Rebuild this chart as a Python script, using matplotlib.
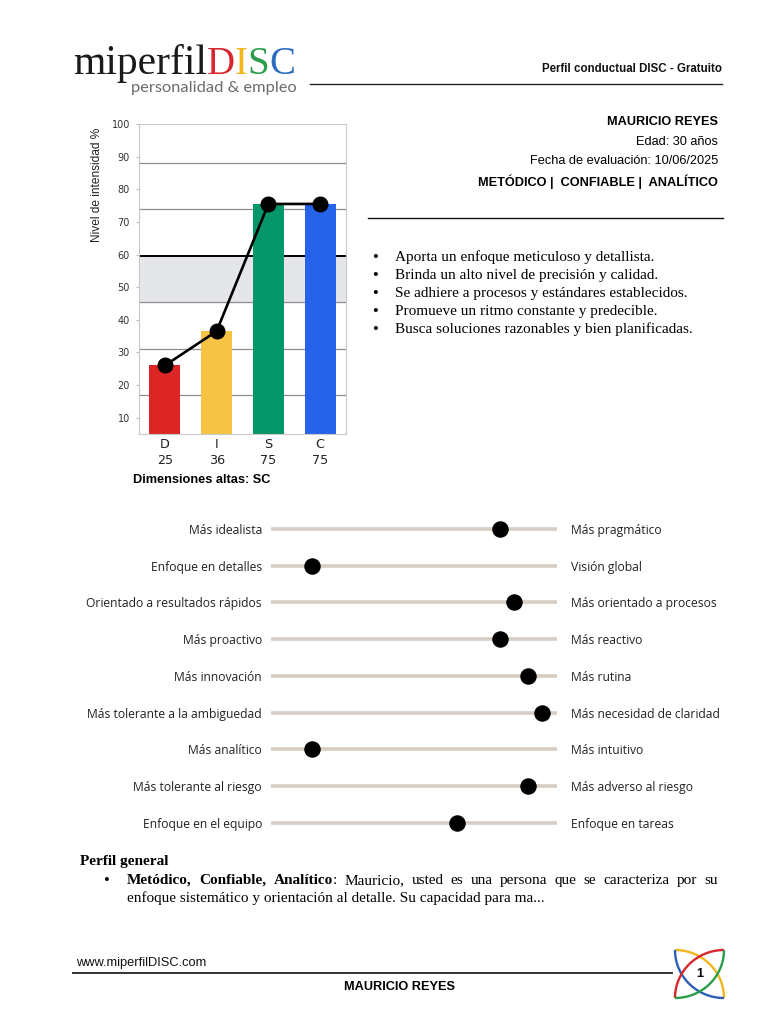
import numpy as np
import matplotlib.pyplot as plt

W, H = 768, 1024

# ---- data ----
dims = ['D', 'I', 'S', 'C']
scores = [25, 36, 75, 75]
bar_heights = [26, 36.5, 75.5, 75.5]
bar_colors = ['#dc2626', '#f6c344', '#059669', '#2563eb']
grid_lines = [17, 31, 45.5, 74, 88]
mid_line = 59.5
band_lo, band_hi = 45.5, 59.5
high_dims = 'SC'

left_traits = ['Más idealista', 'Enfoque en detalles', 'Orientado a resultados rápidos',
               'Más proactivo', 'Más innovación', 'Más tolerante a la ambiguedad',
               'Más analítico', 'Más tolerante al riesgo', 'Enfoque en el equipo']
right_traits = ['Más pragmático', 'Visión global', 'Más orientado a procesos',
                'Más reactivo', 'Más rutina', 'Más necesidad de claridad',
                'Más intuitivo', 'Más adverso al riesgo', 'Enfoque en tareas']
trait_pos = [80, 14.5, 85, 80, 90, 95, 14.5, 90, 65]

name = 'MAURICIO REYES'
info_lines = ['Edad: 30 años', 'Fecha de evaluación: 10/06/2025']
tags = 'METÓDICO |  CONFIABLE |  ANALÍTICO'
bullets = ['Aporta un enfoque meticuloso y detallista.',
           'Brinda un alto nivel de precisión y calidad.',
           'Se adhiere a procesos y estándares establecidos.',
           'Promueve un ritmo constante y predecible.',
           'Busca soluciones razonables y bien planificadas.']
summary_bold = 'Metódico, Confiable, Analítico'
summary_line1 = ': Mauricio, usted es una persona que se caracteriza por su'
summary_line2 = 'enfoque sistemático y orientación al detalle. Su capacidad para ma...'

SANS = 'Liberation Sans'
SERIF = 'Liberation Serif'

fig = plt.figure(figsize=(W / 100, H / 100), dpi=100)
bg = fig.add_axes([0, 0, 1, 1])
bg.set_xlim(0, W)
bg.set_ylim(H, 0)
bg.axis('off')
r = fig.canvas.get_renderer()


def px_axes(x0, y0, x1, y1):
    return fig.add_axes([x0 / W, 1 - y1 / H, (x1 - x0) / W, (y1 - y0) / H])


def width(t):
    return t.get_window_extent(r).width


# ---- header ----
x = 73
for s, c, fs in [('miperfil', '#1a1a1a', 30), ('D', '#d7282f', 28), ('I', '#f2b51c', 28),
                 ('S', '#2a9d4b', 28), ('C', '#2d6cc0', 28)]:
    t = bg.text(x, 74, s, family=SERIF, fontsize=fs, color=c, va='baseline')
    x += width(t)
bg.text(131, 88, 'personalidad & empleo', family='Lato', fontsize=11.8,
        color='#6b6b6b', va='center')
bg.plot([310, 722], [84, 84], color='#222', lw=1)
bg.text(722, 69, 'Perfil conductual DISC - Gratuito', family=SANS, fontsize=8.3,
        weight='bold', ha='right', va='center', color='#111')

# ---- info block ----
bg.text(718, 122, name, family=SANS, fontsize=9.2, weight='bold', ha='right', va='center')
for i, s in enumerate(info_lines):
    bg.text(718, 142 + 18.5 * i, s, family=SANS, fontsize=9.2, ha='right', va='center')
bg.text(718, 182, tags, family=SANS, fontsize=9.2, weight='bold', ha='right', va='center')
bg.plot([368, 723], [218, 218], color='#111', lw=1)
for i, s in enumerate(bullets):
    y = 257 + 18 * i
    bg.text(375, y + 1, '•', family=SERIF, fontsize=12, ha='center', va='center')
    bg.text(395, y, s, family=SERIF, fontsize=11, va='center')

# ---- DISC bar chart ----
ax = px_axes(139, 124, 346, 434)
xs = np.arange(len(dims))
ax.axhspan(band_lo, band_hi, color='#e5e6e9', zorder=0)
ax.hlines(grid_lines, -0.5, 3.5, color='#8f8f8f', lw=0.9, zorder=1)
ax.hlines(mid_line, -0.5, 3.5, color='#000', lw=1.4, zorder=1)
ax.bar(xs, bar_heights, width=0.6, color=bar_colors, zorder=2)
ax.plot(xs, bar_heights, color='black', lw=1.9, marker='o', ms=10.5, zorder=3)
ax.set_xlim(-0.5, 3.5)
ax.set_ylim(5, 100)
ax.set_yticks(range(10, 101, 10))
ax.tick_params(axis='y', labelsize=7, length=2.5, color='#bbb', labelcolor='#333', pad=4)
ax.set_xticks(xs)
ax.set_xticklabels([f'{d}\n{s}' for d, s in zip(dims, scores)], fontsize=9.2,
                   family='DejaVu Sans', linespacing=1.25)
ax.tick_params(axis='x', length=0, pad=3, labelcolor='#222')
for sp in ax.spines.values():
    sp.set_color('#c8c8c8')
bg.text(97, 185, 'Nivel de intensidad %', family=SANS, fontsize=8.6, rotation=90,
        ha='center', va='center', color='#222')
bg.text(133, 480, f'Dimensiones altas: {high_dims}', family=SANS, fontsize=9.2,
        weight='bold', va='center')

# ---- trait sliders ----
sx = px_axes(270.7, 510.6, 556.7, 841)
rows = np.arange(len(left_traits))
sx.hlines(rows, 0, 100, color='#d8cdc2', lw=2.6, zorder=1)
sx.scatter(trait_pos, rows, s=118, color='black', zorder=3, clip_on=False)
sx.set_xlim(0, 100)
sx.set_ylim(len(rows) - 0.5, -0.5)
sx.set_xticks([])
sx.set_yticks(rows)
sx.set_yticklabels(left_traits, family='Open Sans', fontsize=8.7, color='#222')
sx.tick_params(axis='y', length=0, pad=6.3)
sx2 = sx.twinx()
sx2.set_ylim(sx.get_ylim())
sx2.set_yticks(rows)
sx2.set_yticklabels(right_traits, family='Open Sans', fontsize=8.7, color='#222')
sx2.tick_params(axis='y', length=0, pad=10.3)
for a in (sx, sx2):
    for sp in a.spines.values():
        sp.set_visible(False)
sx.patch.set_alpha(0)

# ---- summary paragraph ----
bg.text(80, 862, 'Perfil general', family=SERIF, fontsize=11, weight='bold', va='center')
bg.text(106, 881, '•', family=SERIF, fontsize=12, ha='center', va='center')
units = [[(w, 'bold')] for w in summary_bold.split(' ')]
rest = summary_line1.split(' ')
units[-1].append((rest[0], 'normal'))
units += [[(w, 'normal')] for w in rest[1:]]
arts, widths = [], []
for u in units:
    ts = [bg.text(0, 884, s, family=SERIF, fontsize=11, weight=wt, va='baseline') for s, wt in u]
    arts.append(ts)
    widths.append([width(t) for t in ts])
gap = (718 - 127 - sum(sum(w) for w in widths)) / (len(units) - 1)
x = 127
for ts, ws in zip(arts, widths):
    for t, w in zip(ts, ws):
        t.set_x(x)
        x += w
    x += gap
bg.text(127, 902, summary_line2, family=SERIF, fontsize=11, va='baseline')

# ---- footer ----
bg.text(76, 963, 'www.miperfilDISC.com', family=SANS, fontsize=9.3, va='center', color='#111')
bg.plot([73, 672], [973, 973], color='#333', lw=1.4)
bg.text(400, 987, name, family=SANS, fontsize=9.2, weight='bold', ha='center', va='center')
lg = px_axes(675, 950, 724, 998)
lg.set_xlim(0, 1)
lg.set_ylim(0, 1)
lg.axis('off')
for (cx, cy), a0, c in [((0, 0), 0, '#f2b51c'), ((1, 1), 180, '#2d5fb8'),
                        ((1, 0), 90, '#d7282f'), ((0, 1), 270, '#2a9d4b')]:
    th = np.radians(np.linspace(a0, a0 + 90, 60))
    lg.plot(cx + np.cos(th), cy + np.sin(th), color=c, lw=1.7,
            solid_capstyle='butt', clip_on=False)
lg.text(0.5, 0.5, '1', family=SANS, fontsize=9, weight='bold', ha='center', va='center')

fig.savefig('out.png', dpi=100)
